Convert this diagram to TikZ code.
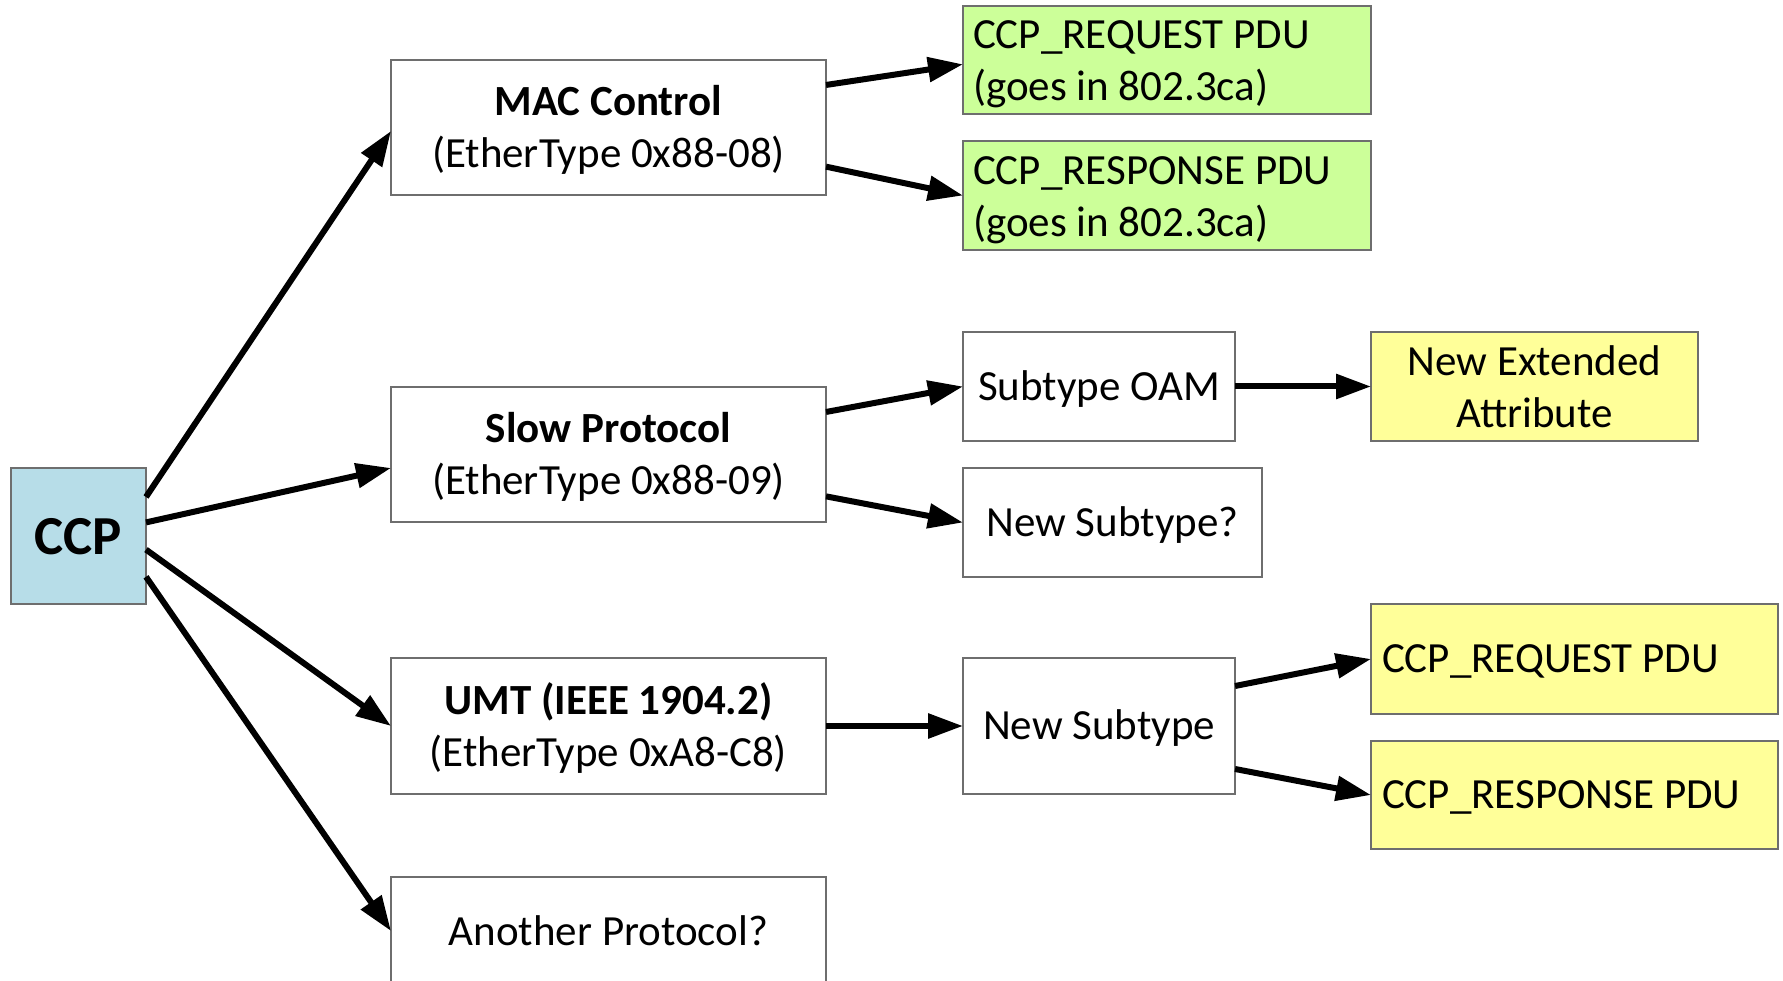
\documentclass[tikz,border=0pt]{standalone}
\usepackage{fontspec}
\setmainfont{Carlito}
\usetikzlibrary{arrows.meta,calc}
\definecolor{ccpblue}{RGB}{183,221,232}
\definecolor{pdugreen}{RGB}{204,255,153}
\definecolor{pduyellow}{RGB}{255,255,153}
\definecolor{boxgray}{RGB}{110,110,110}
\begin{document}
\begin{tikzpicture}[x=1pt,y=-1pt,
  box/.style={draw=boxgray,line width=1.5pt,anchor=north west,inner sep=0pt,outer sep=0pt,
    align=center,font=\fontsize{43}{52}\selectfont,text depth=2.5pt},
  leftbox/.style={box,align=flush left},
  greenbox/.style={leftbox,fill=pdugreen,minimum width=408pt,text width=388pt,text height=28pt,text depth=50pt},
  arr/.style={line width=6pt,-{Triangle[length=35pt,width=24pt]}}]
\useasboundingbox (0,0) rectangle (1783,981);
\clip (0,0) rectangle (1783,981);
% nodes
\node[box,fill=ccpblue,minimum width=135pt,minimum height=136pt,font=\fontsize{55}{60}\selectfont\bfseries,text depth=0pt] (ccp) at (11,468) {CCP};
\node[box,minimum width=435pt,minimum height=135pt] (mac) at (391,60) {\textbf{MAC Control}\\(EtherType 0x88-08)};
\node[box,minimum width=435pt,minimum height=135pt] (slow) at (391,387) {\textbf{Slow Protocol}\\(EtherType 0x88-09)};
\node[box,minimum width=435pt,minimum height=136pt] (umt) at (391,658) {\textbf{UMT (IEEE 1904.2)}\\(EtherType 0xA8-C8)};
\node[box,minimum width=435pt,minimum height=108pt,text depth=0pt] (another) at (391,877) {Another Protocol?};
\node[greenbox,minimum height=108pt] (g1) at (963,6) {CCP\_REQUEST PDU\\(goes in 802.3ca)};
\node[greenbox,minimum height=109pt] (g2) at (963,141) {CCP\_RESPONSE PDU\\(goes in 802.3ca)};
\node[box,minimum width=272pt,minimum height=109pt] (oam) at (963,332) {Subtype OAM};
\node[box,minimum width=299pt,minimum height=109pt] (newsubq) at (963,468) {New Subtype?};
\node[box,fill=pduyellow,minimum width=327pt,minimum height=109pt,text depth=0pt] (nea) at (1371,332) {New Extended\\Attribute};
\node[box,minimum width=272pt,minimum height=136pt] (newsub) at (963,658) {New Subtype};
\node[leftbox,fill=pduyellow,minimum width=407pt,minimum height=110pt,text width=385pt,text depth=0pt] (y1) at (1371,604) {CCP\_REQUEST PDU};
\node[leftbox,fill=pduyellow,minimum width=407pt,minimum height=108pt,text width=385pt,text depth=0pt] (y2) at (1371,741) {CCP\_RESPONSE PDU};
% connectors
\draw[arr] ($(ccp.north east)!0.213!(ccp.south east)$) -- ($(mac.north west)!0.526!(mac.south west)$);
\draw[arr] ($(ccp.north east)!0.40!(ccp.south east)$) -- ($(slow.north west)!0.60!(slow.south west)$);
\draw[arr] ($(ccp.north east)!0.60!(ccp.south east)$) -- (umt.west);
\draw[arr] ($(ccp.north east)!0.80!(ccp.south east)$) -- (another.west);
\draw[arr] ($(mac.north east)!0.185!(mac.south east)$) -- ($(g1.north west)!0.54!(g1.south west)$);
\draw[arr] ($(mac.north east)!0.79!(mac.south east)$) -- (g2.west);
\draw[arr] ($(slow.north east)!0.185!(slow.south east)$) -- (oam.west);
\draw[arr] ($(slow.north east)!0.81!(slow.south east)$) -- (newsubq.west);
\draw[arr] (oam.east) -- (nea.west);
\draw[arr] (umt.east) -- (newsub.west);
\draw[arr] ($(newsub.north east)!0.206!(newsub.south east)$) -- (y1.west);
\draw[arr] ($(newsub.north east)!0.816!(newsub.south east)$) -- (y2.west);
\end{tikzpicture}
\end{document}
